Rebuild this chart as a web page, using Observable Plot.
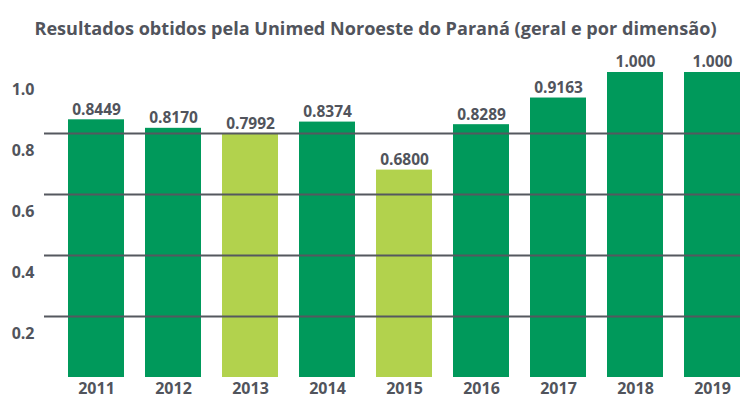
<!DOCTYPE html>
<html>
<head>
<meta charset="utf-8">
<script src="https://cdn.jsdelivr.net/npm/d3@7"></script>
<script src="https://cdn.jsdelivr.net/npm/@observablehq/plot@0.6"></script>
<style>
  body { margin: 0; background: #fff; }
  #wrap { position: relative; width: 751px; height: 411px; }
  #title { position: absolute; left: 0; top: 0; width: 751px; height: 56px; line-height: 56px; text-align: center; font-family: "Open Sans", sans-serif; font-weight: 700; font-size: 18.1px; color: #51545c; white-space: nowrap; z-index: 2; }
  svg { display: block; }
</style>
</head>
<body>
<div id="wrap">
<div id="title">Resultados obtidos pela Unimed Noroeste do Paraná (geral e por dimensão)</div>
<div id="chart"></div>
</div>
<script>
const years = ["2011", "2012", "2013", "2014", "2015", "2016", "2017", "2018", "2019"];
const values = [0.8449, 0.8170, 0.7992, 0.8374, 0.6800, 0.8289, 0.9163, 1.000, 1.000];
const labels = ["0.8449", "0.8170", "0.7992", "0.8374", "0.6800", "0.8289", "0.9163", "1.000", "1.000"];
const groups = ["geral", "geral", "destaque", "geral", "destaque", "geral", "geral", "geral", "geral"];
const gridTicks = [0.2, 0.4, 0.6, 0.8];
const axisTicks = [0.2, 0.4, 0.6, 0.8, 1.0];

const data = years.map((y, i) => ({year: y, value: values[i], label: labels[i], group: groups[i]}));
const textColor = "#51545c";

const chart = Plot.plot({
  width: 751,
  height: 411,
  marginTop: 72,
  marginBottom: 34,
  marginLeft: 44,
  marginRight: 11,
  style: {fontFamily: "'Open Sans', sans-serif", color: textColor, background: "#fff"},
  x: {domain: years, range: [67, 740], paddingInner: 0.274, paddingOuter: 0, label: null},
  y: {domain: [0, 1], label: null},
  color: {domain: ["geral", "destaque"], range: ["#00995b", "#b2d24d"]},
  marks: [
    Plot.barY(data, {x: "year", y: "value", fill: "group"}),
    Plot.ruleY(gridTicks, {stroke: "#55585f", strokeWidth: 2}),
    Plot.text(data, {x: "year", y: "value", text: "label", dy: -10, fill: textColor, fontSize: 15.5, fontWeight: 700}),
    Plot.axisY(axisTicks, {tickSize: 0, tickPadding: 10, dy: 17, tickFormat: d => d.toFixed(1), fontSize: 16, fontWeight: 700, fill: textColor, label: null}),
    Plot.axisX({tickSize: 0, tickPadding: 5, fontSize: 16, fontWeight: 700, fill: textColor, label: null})
  ]
});
document.getElementById("chart").appendChild(chart);
</script>
</body>
</html>
